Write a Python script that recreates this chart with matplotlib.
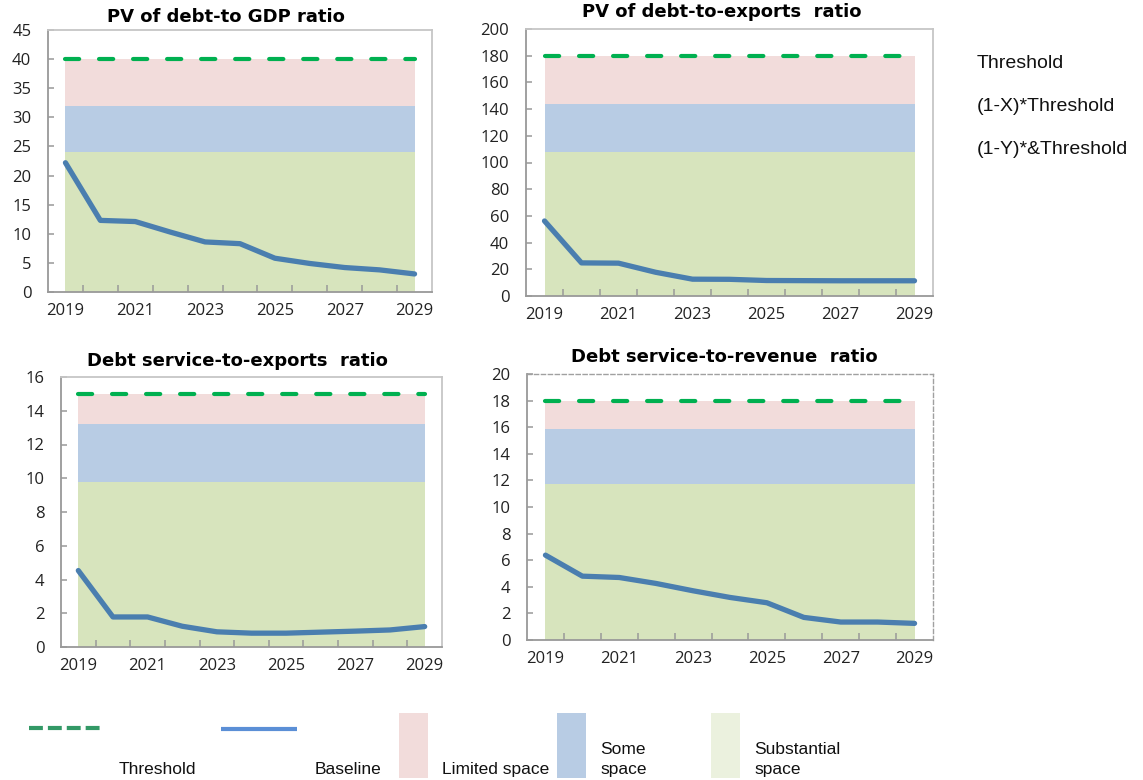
import matplotlib
matplotlib.use("Agg")
import matplotlib.pyplot as plt
from matplotlib.lines import Line2D
from matplotlib.patches import Rectangle
import numpy as np

plt.rcParams["font.family"] = ["Open Sans", "DejaVu Sans"]
plt.rcParams["lines.scale_dashes"] = False

# ---- data -------------------------------------------------------------
years = list(range(2019, 2030))
pv_gdp = [22.2, 12.3, 12.1, 10.3, 8.6, 8.3, 5.8, 4.9, 4.2, 3.8, 3.1]
pv_exports = [56.2, 24.8, 24.6, 17.8, 12.6, 12.5, 11.6, 11.5, 11.4, 11.4, 11.4]
ds_exports = [4.53, 1.78, 1.78, 1.23, 0.90, 0.82, 0.82, 0.88, 0.94, 1.01, 1.21]
ds_revenue = [6.38, 4.80, 4.70, 4.25, 3.70, 3.20, 2.80, 1.70, 1.35, 1.35, 1.25]

titles = ["PV of debt-to GDP ratio", "PV of debt-to-exports  ratio",
          "Debt service-to-exports  ratio", "Debt service-to-revenue  ratio"]
series = [pv_gdp, pv_exports, ds_exports, ds_revenue]
thresholds = [40, 180, 15, 18]
x_share = [0.20, 0.20, 0.12, 0.12]   # (1-X)*Threshold
y_share = [0.40, 0.40, 0.35, 0.35]   # (1-Y)*Threshold
y_max = [45, 200, 16, 20]
y_step = [5, 20, 2, 2]

# ---- styling ----------------------------------------------------------
W, H = 1143, 780
C_LIMITED = "#f2dcdb"
C_SOME = "#b8cce4"
C_SUBST = "#d7e4bd"
C_SUBST_LEG = "#ebf1de"
C_THR = "#00b050"
C_BASE = "#4a7eaf"

fig = plt.figure(figsize=(W / 100, H / 100), dpi=100)


def px_rect(left, top, right, bottom):
    return [left / W, 1 - bottom / H, (right - left) / W, (bottom - top) / H]


def fx(x):
    return x / W


def fy(y):
    return 1 - y / H


panel_rects = [px_rect(48, 30, 432, 292), px_rect(526, 29, 933, 296),
               px_rect(61, 377, 442, 647), px_rect(527, 374, 933, 640)]
title_pos = [(226, 17), (722, 12), (237, 361), (724, 357)]

x = np.arange(len(years))
for i in range(4):
    ax = fig.add_axes(panel_rects[i])
    thr = thresholds[i]
    upper_some = thr * (1 - x_share[i])
    upper_subst = thr * (1 - y_share[i])
    n = len(x)
    ax.fill_between(x, [upper_some] * n, [thr] * n, color=C_LIMITED, lw=0)
    ax.fill_between(x, [upper_subst] * n, [upper_some] * n, color=C_SOME, lw=0)
    ax.fill_between(x, [0] * n, [upper_subst] * n, color=C_SUBST, lw=0)
    ax.plot(x, [thr] * n, color=C_THR, lw=3, dashes=(10.2, 14.3),
            dash_capstyle="round", zorder=3)
    ax.plot(x, series[i], color=C_BASE, lw=3.8, solid_capstyle="round",
            solid_joinstyle="round", zorder=4)

    ax.set_xlim(-0.5, 10.5)
    ax.set_ylim(0, y_max[i])
    ax.set_yticks(np.arange(0, y_max[i] + y_step[i] / 2, y_step[i]))
    ax.set_xticks(x[::2])
    ax.set_xticklabels([str(y) for y in years[::2]])
    ax.set_xticks(np.arange(0.5, 10, 1), minor=True)
    ax.tick_params(axis="x", which="major", length=0, pad=8,
                   labelsize=12, colors="#222222")
    ax.tick_params(axis="x", which="minor", direction="in", length=5,
                   width=1.1, color="#999999")
    ax.tick_params(axis="y", direction="in", length=4, width=1.1,
                   color="#999999", pad=12, labelsize=12,
                   labelcolor="#222222")
    for side in ("top", "right"):
        ax.spines[side].set_color("#c6c6c6")
        ax.spines[side].set_linewidth(1.3)
    for side in ("left", "bottom"):
        ax.spines[side].set_color("#999999")
        ax.spines[side].set_linewidth(1.3)
    if i == 3:
        for side in ("top", "right"):
            ax.spines[side].set_linestyle((0, (3, 2)))
            ax.spines[side].set_color("#a0a0a0")
            ax.spines[side].set_linewidth(1.0)

    tx, ty = title_pos[i]
    fig.text(fx(tx), fy(ty), titles[i], ha="center", va="center",
             fontsize=13, fontweight="bold", family="DejaVu Sans",
             color="#000000")

# ---- labels on the right ------------------------------------------------
for label, base in [("Threshold", 68), ("(1-X)*Threshold", 111),
                    ("(1-Y)*&Threshold", 154)]:
    fig.text(fx(977), fy(base), label, ha="left", va="baseline",
             fontsize=14, family="Liberation Sans", color="#111111")

# ---- legend row ---------------------------------------------------------
fig.add_artist(Line2D([fx(29), fx(103)], [fy(728), fy(728)], color="#339966",
                      lw=3, dashes=(10, 3.6), dash_capstyle="butt",
                      transform=fig.transFigure))
fig.add_artist(Line2D([fx(221), fx(297)], [fy(729), fy(729)], color="#5b8fd6",
                      lw=3, solid_capstyle="butt", transform=fig.transFigure))
for left, col in [(399, C_LIMITED), (557, C_SOME), (711, C_SUBST_LEG)]:
    fig.add_artist(Rectangle((fx(left), fy(778)), 29 / W, 65 / H,
                             facecolor=col, edgecolor="none",
                             transform=fig.transFigure))

leg_font = dict(fontsize=12.5, family="Liberation Sans", color="#111111",
                ha="left", va="baseline")
fig.text(fx(119), fy(774), "Threshold", **leg_font)
fig.text(fx(315), fy(774), "Baseline", **leg_font)
fig.text(fx(442), fy(774), "Limited space", **leg_font)
fig.text(fx(600), fy(754), "Some", **leg_font)
fig.text(fx(600), fy(774), "space", **leg_font)
fig.text(fx(754), fy(754), "Substantial", **leg_font)
fig.text(fx(754), fy(774), "space", **leg_font)

fig.savefig("out.png", dpi=100)
